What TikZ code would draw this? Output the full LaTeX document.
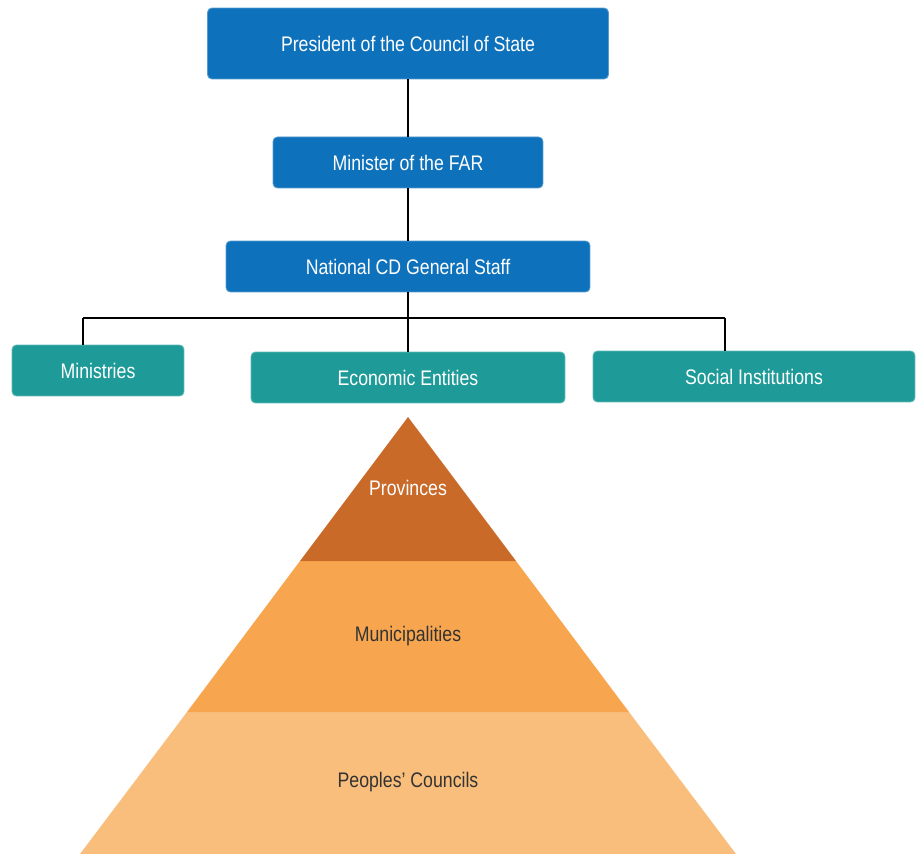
\documentclass[tikz,border=0pt]{standalone}
\usepackage{fontspec}
\setmainfont[FakeStretch=0.84]{Liberation Sans}
\usetikzlibrary{calc}
\definecolor{farblue}{HTML}{0E71BB}
\definecolor{farteal}{HTML}{1E9B98}
\definecolor{provcol}{HTML}{C96A29}
\definecolor{municol}{HTML}{F7A64F}
\definecolor{peopcol}{HTML}{F9BE7C}
\tikzset{
	bluebox/.style={rectangle, rounded corners=2.5pt, fill=farblue, draw=farblue!70!white, line width=0.5pt, text=white, inner sep=0pt, font=\fontsize{12}{14}\selectfont},
	tealbox/.style={rectangle, rounded corners=2.5pt, fill=farteal, draw=farteal!70!white, line width=0.5pt, text=white, inner sep=0pt, font=\fontsize{12}{14}\selectfont},
	link/.style={line width=1.5pt, color=black},
	layer/.style={text=black!80, font=\fontsize{12}{14}\selectfont}
}
\begin{document}
\begin{tikzpicture}[x=0.02cm, y=-0.02cm]
			%%%%% START %%%%%
			
			\useasboundingbox (0, 0) rectangle (916, 854);
			
			\node[bluebox, minimum width=8.02cm, minimum height=1.42cm] (pres) at (408, 43.5) {President of the Council of State};
			\node[bluebox, minimum width=5.4cm, minimum height=1.02cm] (farmin) at (408, 162.5) {Minister of the FAR};
			\node[bluebox, minimum width=7.28cm, minimum height=1.02cm] (gstaff) at (408, 266.5) {National CD General Staff};
			
			\node[tealbox, minimum width=3.44cm, minimum height=1.02cm] (minis) at (98, 370.5) {Ministries};
			\node[tealbox, minimum width=6.28cm, minimum height=1.02cm] (econ) at (408, 377.5) {Economic Entities};
			\node[tealbox, minimum width=6.44cm, minimum height=1.02cm] (social) at (754, 376.5) {Social Institutions};
			
			\coordinate (lbr) at (83, 318);
			\coordinate (rbr) at (725, 318);
			
			\draw[link] (pres) -- (farmin);
			\draw[link] (farmin) -- (gstaff);
			\draw[link] (gstaff) -- (econ);
			\draw[link] (lbr) -- (rbr);
			\draw[link] (lbr) -- (lbr |- minis.north);
			\draw[link] (rbr) -- (rbr |- social.north);
			
			%%%%% PYRAMID %%%%%
			
			\fill[peopcol] (187, 712) -- (629, 712) -- (736, 854) -- (80, 854) -- cycle;
			\fill[municol] (300, 561) -- (516, 561) -- (629, 712) -- (187, 712) -- cycle;
			\fill[provcol] (408, 417) -- (516, 561) -- (300, 561) -- cycle;
			
			\node[layer, text=white] (prov) at (408, 488) {Provinces};
			\node[layer] (muni) at (408, 636) {Municipalities};
			\node[layer] (peop) at (408, 782) {Peoples’ Councils};
			
			%%%%% END %%%%%
\end{tikzpicture}
\end{document}
